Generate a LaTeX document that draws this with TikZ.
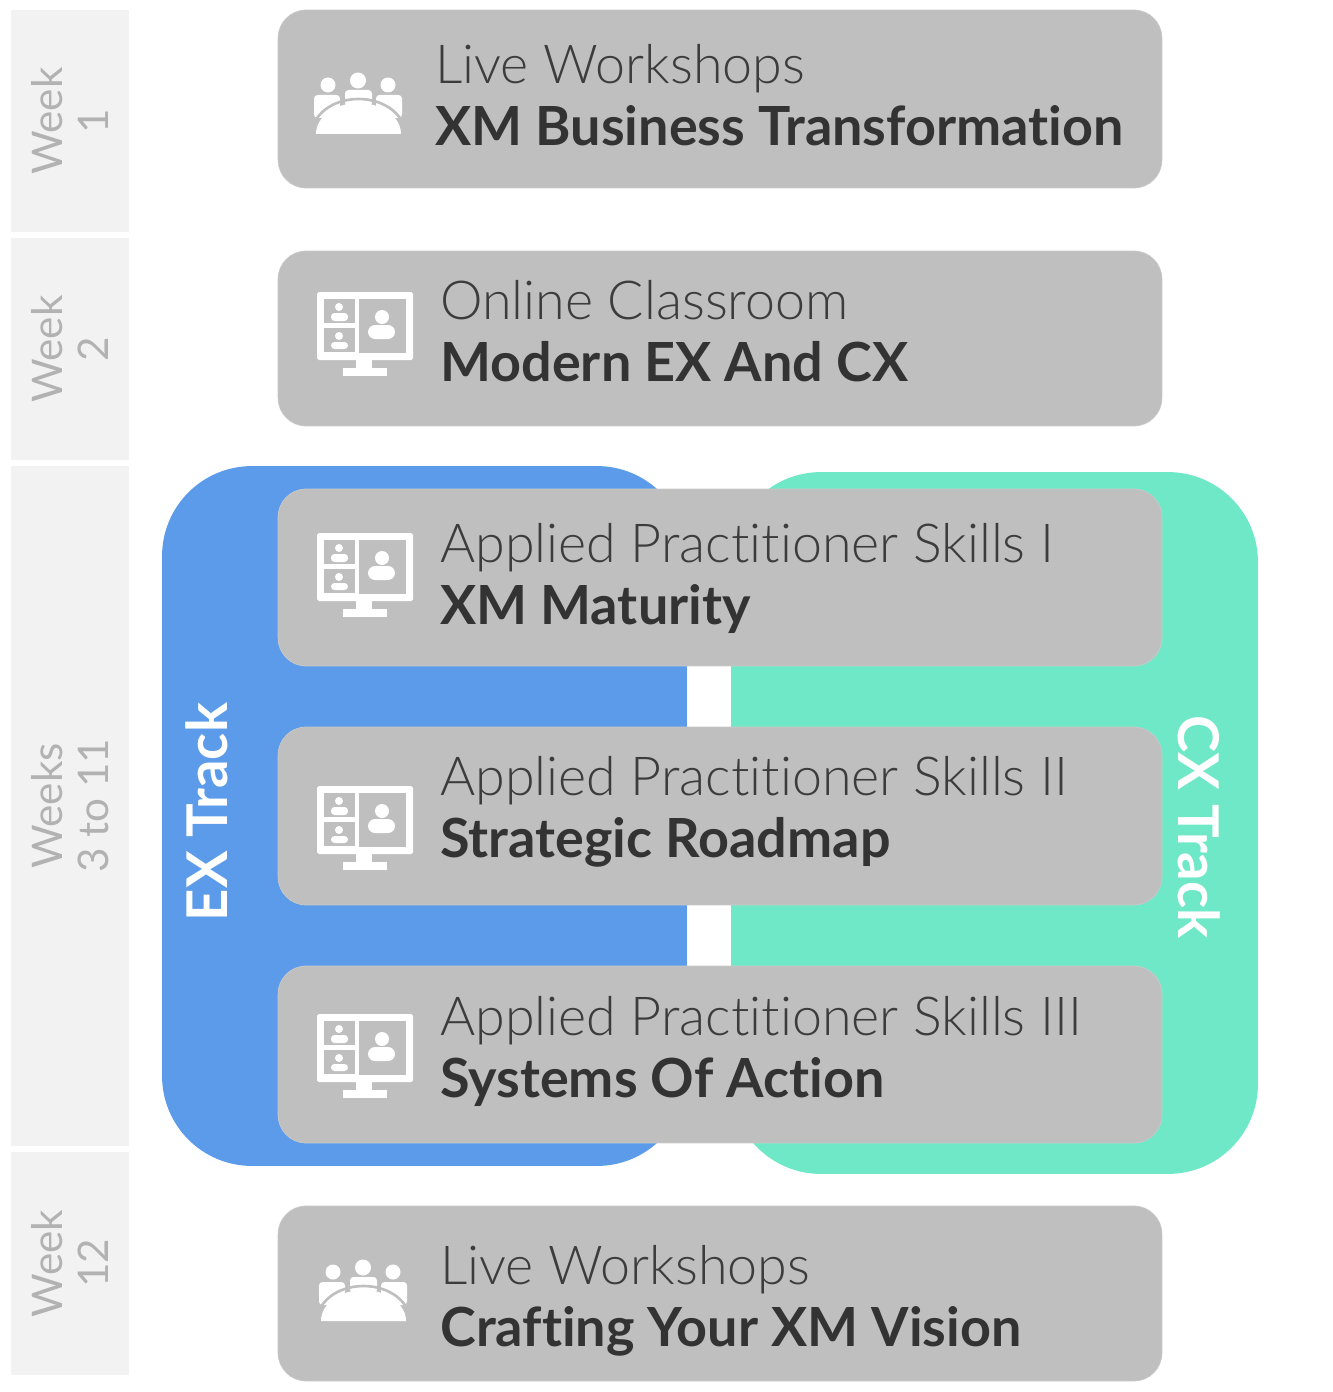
\documentclass[tikz,border=0pt]{standalone}
\usepackage{fontspec}
\setmainfont{Lato}[UprightFont=* Light, BoldFont=* Bold, Ligatures=CommonOff]
\newfontfamily\weekfont{Lato}
\usepackage{tikz}
\definecolor{stripGray}{HTML}{F2F2F2}
\definecolor{weekGray}{HTML}{B2B2B2}
\definecolor{boxGray}{HTML}{BFBFBF}
\definecolor{exBlue}{HTML}{5B9BE9}
\definecolor{cxTeal}{HTML}{6EE8C7}
\definecolor{inkGray}{HTML}{3C3C3C}

\begin{document}
\begin{tikzpicture}[x=0.02cm, y=-0.02cm,
        strip/.style={fill=stripGray, minimum width=2.36cm, inner sep=0pt},
        weeklabel/.style={rotate=90, text=weekGray, align=center, font=\weekfont\fontsize{24}{26.5}\selectfont},
        track/.style={rounded corners=1.8cm, minimum height=14cm, inner sep=0pt},
        tracklabel/.style={text=white, font=\fontsize{32}{34}\selectfont\bfseries},
        course/.style={fill=boxGray, draw=boxGray!85!white, rounded corners=0.56cm, minimum width=17.68cm, inner sep=0pt},
        kind/.style={anchor=base west, inner sep=0pt, text=inkGray, font=\fontsize{30.6}{34}\selectfont},
        topic/.style={anchor=base west, inner sep=0pt, text=inkGray!85!black, font=\fontsize{30.7}{34}\selectfont\bfseries},
        screenicon/.pic={
            % Monitor with three video panes
            \fill[white, rounded corners=1pt] (0,0) rectangle (96,68);
            \fill[white] (39,68) rectangle (55,77);
            \fill[white] (26,76) rectangle (70,84);
            \fill[boxGray] (7,7) rectangle (38,31);
            \fill[boxGray] (7,36) rectangle (38,60);
            \fill[boxGray] (42,7) rectangle (89,61);
            \fill[white] (22,15) circle (4);
            \fill[white, rounded corners=2pt] (14,29) rectangle (31,21);
            \fill[white] (22,44) circle (4);
            \fill[white, rounded corners=2pt] (14,57) rectangle (31,50);
            \fill[white] (65,25) circle (7);
            \fill[white, rounded corners=4pt] (51,47) rectangle (78,33);
        },
        groupicon/.pic={
            % Three people round a table
            \fill[white] (14,5) circle (7.5);
            \fill[white] (44,0.5) circle (8);
            \fill[white] (74,5) circle (7.5);
            \fill[white, rounded corners=2pt] (31,26) rectangle (58,10);
            \fill[white, rounded corners=2pt] (0,38) rectangle (26,15);
            \fill[white, rounded corners=2pt] (62,38) rectangle (88,15);
            \fill[white] (2,54) arc (180:360:42.5 and 31) -- cycle;
            \draw[boxGray, line width=1.5pt] (-2,54) arc (180:360:46.5 and 35);
        }]
        \useasboundingbox (0,0) rectangle (1332,1392);

        % Week strips
        \node[strip, minimum height=4.44cm] (stripA) at (70,121) {};
        \node[strip, minimum height=4.44cm] (stripB) at (70,349) {};
        \node[strip, minimum height=13.6cm] (stripC) at (70,806) {};
        \node[strip, minimum height=4.46cm] (stripD) at (70,1263.5) {};
        \node[weeklabel] (weekA) at (stripA) {Week\\1};
        \node[weeklabel] (weekB) at (stripB) {Week\\2};
        \node[weeklabel] (weekC) at (stripC) {Weeks\\3 to 11};
        \node[weeklabel] (weekD) at (stripD) {Week\\12};

        % EX and CX tracks
        \node[track, fill=exBlue, minimum width=10.5cm] (exTrack) at (424.5,816) {};
        \node[track, fill=cxTeal, minimum width=10.54cm, minimum height=14.04cm] (cxTrack) at (994.5,823) {};
        \node[tracklabel, rotate=90] (exLabel) at (207,812) {EX Track};
        \node[tracklabel, rotate=-90] (cxLabel) at (1199,827) {CX Track};

        % Course boxes
        \node[course, minimum height=3.56cm] (courseA) at (720,99) {};
        \node[course, minimum height=3.5cm] (courseB) at (720,338.5) {};
        \node[course, minimum height=3.54cm] (courseC) at (720,577.5) {};
        \node[course, minimum height=3.56cm] (courseD) at (720,816) {};
        \node[course, minimum height=3.54cm] (courseE) at (720,1054.5) {};
        \node[course, minimum height=3.5cm] (courseF) at (720,1293.5) {};

        % Icons
        \pic (iconA) at (314,80) {groupicon};
        \pic (iconB) at (317,292) {screenicon};
        \pic (iconC) at (317,533) {screenicon};
        \pic (iconD) at (317,786) {screenicon};
        \pic (iconE) at (317,1014) {screenicon};
        \pic (iconF) at (319,1267) {groupicon};

        % Course texts
        \node[kind] (kindA) at (435,84) {Live Workshops};
        \node[topic] (topicA) at (435,146) {XM Business Transformation};
        \node[kind] (kindB) at (440,319) {Online Classroom};
        \node[topic] (topicB) at (440,381) {Modern EX And CX};
        \node[kind] (kindC) at (440,562) {Applied Practitioner Skills I};
        \node[topic] (topicC) at (440,624) {XM Maturity};
        \node[kind] (kindD) at (440,795) {Applied Practitioner Skills II};
        \node[topic] (topicD) at (440,857) {Strategic Roadmap};
        \node[kind] (kindE) at (440,1035) {Applied Practitioner Skills III};
        \node[topic] (topicE) at (440,1097) {Systems Of Action};
        \node[kind] (kindF) at (440,1284) {Live Workshops};
        \node[topic] (topicF) at (440,1346) {Crafting Your XM Vision};
    \end{tikzpicture}
\end{document}
